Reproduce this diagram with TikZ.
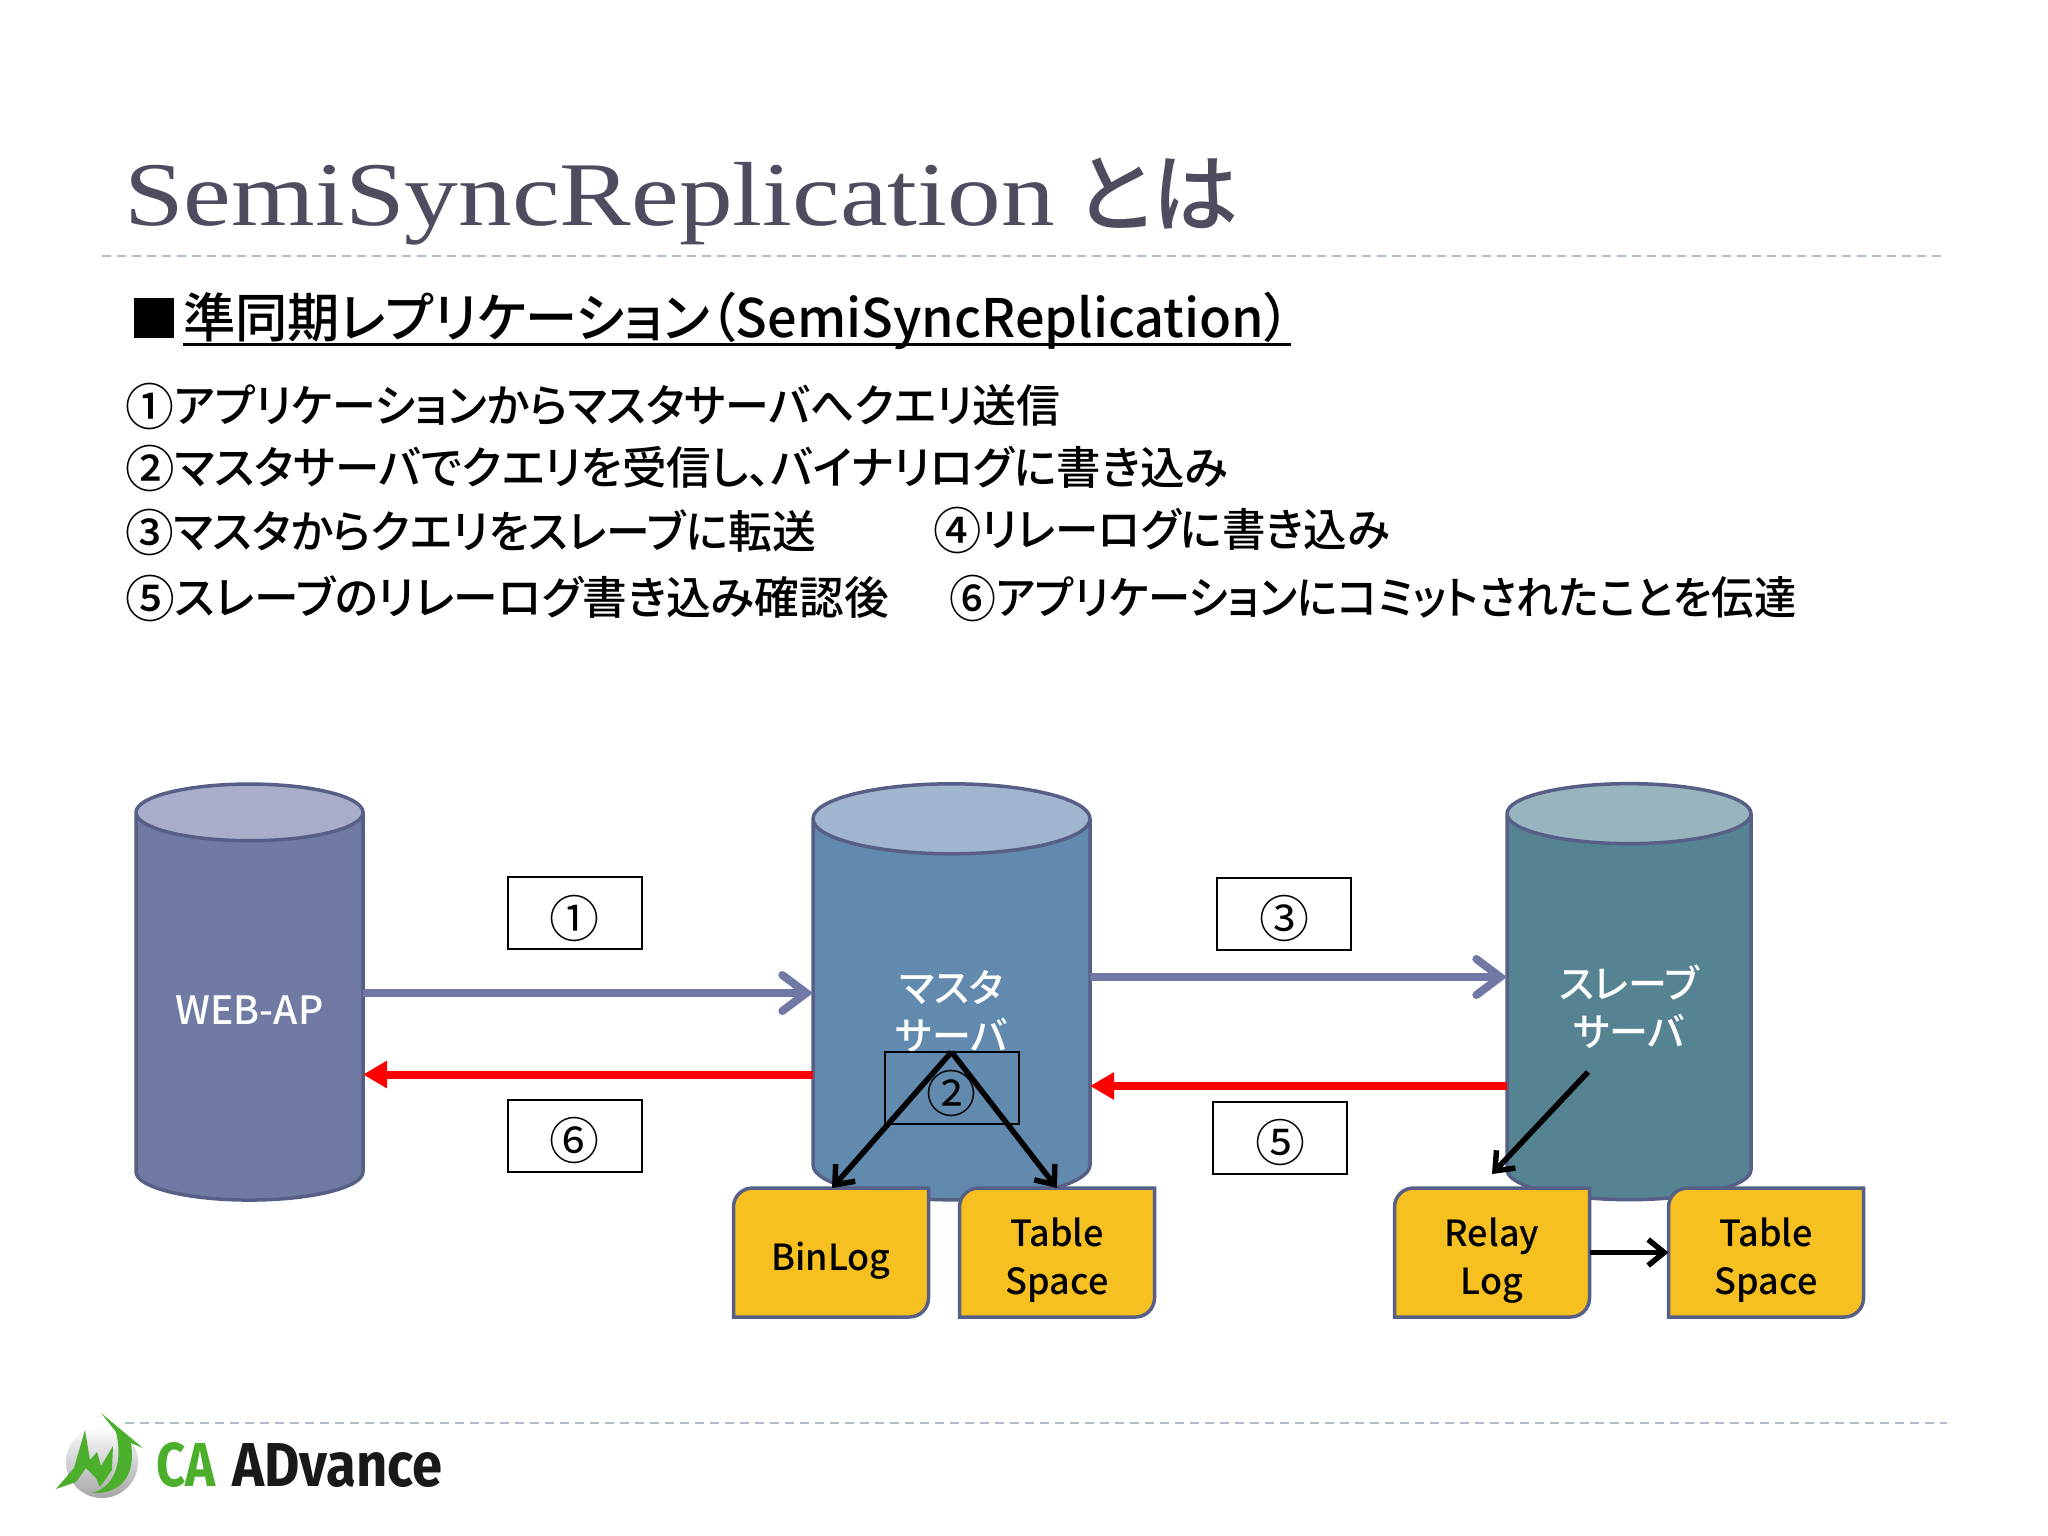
\documentclass[tikz,border=0pt]{standalone}
\usepackage{fontspec}
\setmainfont{Noto Sans CJK JP}[RawFeature=+palt]
\newfontfamily\medfont{Noto Sans CJK JP Medium}[RawFeature=+palt]
\newfontfamily\titlefont{Liberation Serif}
\newfontfamily\logofont{Fira Sans}[BoldFont={Fira Sans Bold}]
\usetikzlibrary{
    arrows.meta,
    positioning,
    shapes.geometric,
    backgrounds,
    calc
}
\newcommand{\px}[1]{\fontsize{#1}{#1}\selectfont}
\newcommand{\pxl}[1]{\fontsize{#1}{48}\selectfont}
\newcommand{\numsign}[1]{{\px{50}\raisebox{-3pt}{#1}}}
\newcommand{\boxsign}[1]{{\px{50}\raisebox{-5pt}[\height][\depth]{#1}}}
\definecolor{titlegrey}{HTML}{4D4D5F}
\definecolor{ruleblue}{HTML}{B0BCCA}
\definecolor{edgeblue}{HTML}{575F86}
\definecolor{flowblue}{HTML}{7278A6}
\definecolor{webbody}{HTML}{717AA3}
\definecolor{webtop}{HTML}{A9ADC9}
\definecolor{masterbody}{HTML}{628AAE}
\definecolor{mastertop}{HTML}{A0B6CE}
\definecolor{slavebody}{HTML}{558391}
\definecolor{slavetop}{HTML}{98B4BE}
\definecolor{docyellow}{HTML}{F5C020}
\definecolor{logogreen}{HTML}{4CAF2B}

\begin{document}
\begin{tikzpicture}[
    x=1pt, y=-1pt,
    % Slide text
    listline/.style={
        anchor=base west,
        inner sep=0pt,
        font=\medfont\px{45}
    },
    dashrule/.style={
        ruleblue,
        line width=2pt,
        dash pattern=on 9pt off 6pt
    },
    % Servers
    server/.style={
        cylinder,
        shape border rotate=90,
        aspect=10.5,
        draw=edgeblue,
        line width=3.5pt,
        outer sep=0pt,
        cylinder uses custom fill,
        minimum height=416pt
    },
    servername/.style={
        font=\medfont\pxl{39},
        text=white,
        align=center,
        inner sep=0pt,
        yshift=3pt
    },
    % Small yellow files and numbered boxes
    docfile/.style={
        minimum width=195pt,
        minimum height=129pt,
        inner sep=0pt,
        outer sep=0pt
    },
    doctext/.style={
        font=\medfont\pxl{36},
        align=center,
        inner sep=0pt,
        yshift=-8pt
    },
    docedge/.style={
        draw=edgeblue,
        fill=docyellow,
        line width=3.5pt
    },
    stepbox/.style={
        draw=black,
        line width=2pt,
        minimum width=134pt,
        minimum height=72pt,
        inner sep=0pt,
        outer sep=0pt,
        font=\px{46}
    },
    % Arrows
    query/.style={
        -{Straight Barb[length=24pt,width=36pt,line cap=round]},
        flowblue,
        line width=8pt
    },
    commit/.style={
        -{Triangle[length=24pt,width=26pt]},
        red,
        line width=8pt
    },
    write/.style={
        -{Straight Barb[length=16pt,width=26pt]},
        black,
        line width=5.5pt
    }
]
    \useasboundingbox (0,0) rectangle (2048,1536);

    % Title and rules
    \node[anchor=base west, inner sep=0pt, text=titlegrey, font=\titlefont\px{91}, xscale=1.18] (title) at (124,225) {SemiSyncReplication};
    \node[anchor=base west, inner sep=0pt, text=titlegrey, font=\medfont\px{86}] (titleja) at (1076,225) {とは};
    \coordinate (ruleL) at (102,256);
    \coordinate (ruleR) at (1947,256);
    \draw[dashrule] (ruleL) -- (ruleR);
    \coordinate (footL) at (125,1423);
    \coordinate (footR) at (1947,1423);
    \draw[dashrule] (footL) -- (footR);

    % Heading and step list
    \node[listline, font=\px{50}] (mark) at (129,337) {■};
    \node[listline, font=\medfont\px{53}, xscale=0.986] (heading) at (183,337) {準同期レプリケーション（SemiSyncReplication）};
    \draw[line width=3pt] ([yshift=-7pt]heading.base west) -- ([yshift=-7pt]heading.base east);
    \node[listline, xscale=0.976] (line1) at (125,422) {\numsign{①}アプリケーションからマスタサーバへクエリ送信};
    \node[listline, xscale=0.989] (line2) at (125,484) {\numsign{②}マスタサーバでクエリを受信し、バイナリログに書き込み};
    \node[listline, xscale=0.974] (line3) at (125,548) {\numsign{③}マスタからクエリをスレーブに転送};
    \node[listline, xscale=0.967] (line4) at (933,546) {\numsign{④}リレーログに書き込み};
    \node[listline, xscale=0.994] (line5) at (125,614) {\numsign{⑤}スレーブのリレーログ書き込み確認後};
    \node[listline, xscale=0.939] (line6) at (949,614) {\numsign{⑥}アプリケーションにコミットされたことを伝達};

    % Servers
    \begin{scope}[on background layer]
        \node[server, aspect=8.5, minimum width=227pt, cylinder body fill=webbody, cylinder end fill=webtop,
            label={[servername, yshift=-2.5pt]center:WEB-AP}] (webap) at (249.5,1010.5) {};
        \node[server, minimum width=277pt, cylinder body fill=masterbody, cylinder end fill=mastertop,
            label={[servername]center:マスタ\\サーバ}] (master) at (951.5,1014) {};
        \node[server, aspect=9, minimum width=244pt, cylinder body fill=slavebody, cylinder end fill=slavetop,
            label={[servername, yshift=1.3pt]center:スレーブ\\サーバ}] (slave) at (1629,1011) {};
    \end{scope}

    % Files
    \node[docfile, label={[doctext]center:BinLog}] (binlog) at (831,1252.5) {};
    \node[docfile, right=31pt of binlog, label={[doctext]center:Table\\Space}] (tablem) {};
    \node[docfile, label={[doctext]center:Relay\\Log}] (relay) at (1492,1252.5) {};
    \node[docfile, right=79pt of relay, label={[doctext]center:Table\\Space}] (tables) {};
    \begin{scope}[on background layer]
        \foreach \doc in {binlog,tablem,relay,tables}
            \draw[docedge] (\doc.west) [rounded corners=19pt] -- (\doc.north west) [sharp corners] -- (\doc.north east)
                [rounded corners=19pt] -- (\doc.south east) [sharp corners] -- (\doc.south west) -- cycle;
    \end{scope}

    % Numbered boxes
    \node[stepbox, fill=white] (step1) at (574.5,913) {\boxsign{①}};
    \node[stepbox, fill=white] (step6) at (574.5,1135.5) {\boxsign{⑥}};
    \node[stepbox] (step2) at (951.5,1088) {\boxsign{②}};
    \node[stepbox, fill=white] (step3) at (1284,913.5) {\boxsign{③}};
    \node[stepbox, fill=white] (step5) at (1280,1137.5) {\boxsign{⑤}};

    % Between the servers
    \draw[query] ([yshift=17.5pt]webap.east) -- ([yshift=21pt]master.west);
    \draw[query] ([yshift=37pt]master.east) -- ([yshift=34pt]slave.west);
    \draw[commit] ([yshift=-60.5pt]master.west) -- ([yshift=-64pt]webap.east);
    \draw[commit] ([yshift=-75pt]slave.west) -- ([yshift=-72pt]master.east);

    % Writes to the files
    \draw[write] (step2.north) -- ([xshift=1pt]binlog.north);
    \draw[write] (step2.north) -- (tablem.north);
    \coordinate (slavewrite) at (1588,1072);
    \draw[write] (slavewrite) -- ([yshift=14pt]relay.north);
    \draw[write] (relay) -- (tables);

    % Logo
    \shade[top color=white, bottom color=black!35] (102,1462) circle (36);
    \fill[logogreen] (101,1413) -- (143,1448) -- (131,1443) .. controls (136,1475) and (122,1494) .. (92,1493)
        .. controls (112,1488) and (124,1466) .. (116,1432) -- cycle;
    \fill[logogreen] (56,1489) -- (74,1468) -- (85,1430) -- (90,1460) -- (97,1452) -- (101,1466) -- (113,1446)
        -- (112,1470) -- (100,1487) -- (96,1478) -- (86,1468) -- (76,1482) -- cycle;
    \node[anchor=base west, inner sep=0pt, font=\logofont\bfseries\px{62}, text=logogreen, xscale=0.82] (logoca) at (156,1486) {CA};
    \node[anchor=base west, inner sep=0pt, font=\logofont\bfseries\px{62}, text=black!90, xscale=0.877] (logoname) at (232,1486) {ADvance};
\end{tikzpicture}
\end{document}
